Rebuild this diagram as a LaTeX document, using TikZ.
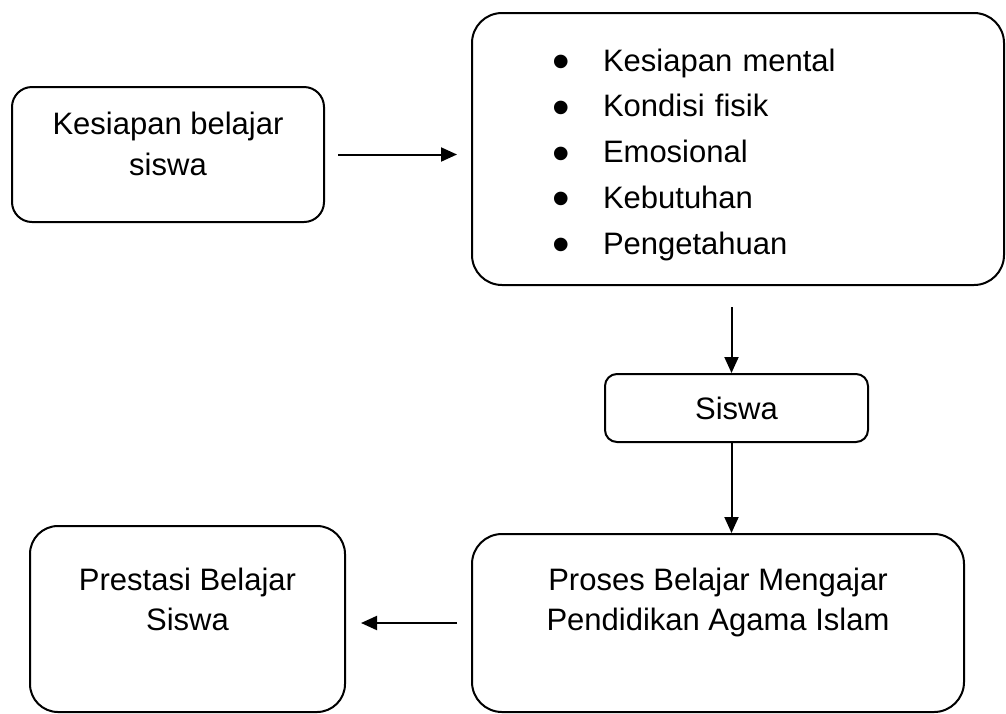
\documentclass[tikz,border=0pt]{standalone}
\usepackage{fontspec}
\setmainfont{Liberation Sans}
\usetikzlibrary{arrows.meta, positioning}

\newcommand{\butir}[1]{\hspace*{80pt}\makebox[51pt][l]{\raisebox{-7.5pt}{\fontsize{50}{0}\selectfont\textbullet}}#1}

\begin{document}
\begin{tikzpicture}[x=1pt, y=-1pt, font=\fontsize{31}{40}\selectfont,
  kotak/.style={draw, line width=2pt, inner sep=0pt, align=center, anchor=north},
  arr/.style={-{Triangle[length=16pt,width=14pt]}, line width=2pt}]
\useasboundingbox (0,0) rectangle (1006,713);

\node (kesiapan) [kotak, rounded corners=20pt, minimum width=312pt,
  text height=88pt, text depth=47pt, font=\fontsize{31}{41}\selectfont]
  at (168,86) {Kesiapan belajar\\siswa};
\node (aspek) [kotak, rounded corners=30pt, text width=532pt, align=left,
  text height=58pt, text depth=214pt, font=\fontsize{31}{45.75}\selectfont]
  at (738,12) {\butir{Kesiapan mental}\\\butir{Kondisi fisik}\\\butir{Emosional}\\
  \butir{Kebutuhan}\\\butir{Pengetahuan}};
\node (siswa) [kotak, rounded corners=12pt, minimum width=263pt, minimum height=68pt]
  at (736.5,373) {Siswa};
\node (proses) [kotak, rounded corners=30pt, minimum width=492pt,
  text height=96pt, text depth=82pt]
  at (718,533) {Proses Belajar Mengajar\\Pendidikan Agama Islam};
\node (prestasi) [kotak, rounded corners=28pt, minimum width=315pt,
  text height=104pt, text depth=82pt]
  at (187.5,525) {Prestasi Belajar\\Siswa};

\draw[arr, shorten <=13pt, shorten >=14pt] (kesiapan.east) -- (kesiapan.east -| aspek.west);
\draw[arr, shorten <=21pt] ([xshift=-5pt]aspek.south -| siswa.north) -- ([xshift=-5pt]siswa.north);
\draw[arr] ([xshift=-5pt]siswa.south) -- ([xshift=-5pt]siswa.south |- proses.north);
\draw[arr, shorten <=14pt, shorten >=15pt] (proses.west) -- (proses.west -| prestasi.east);
\end{tikzpicture}
\end{document}
